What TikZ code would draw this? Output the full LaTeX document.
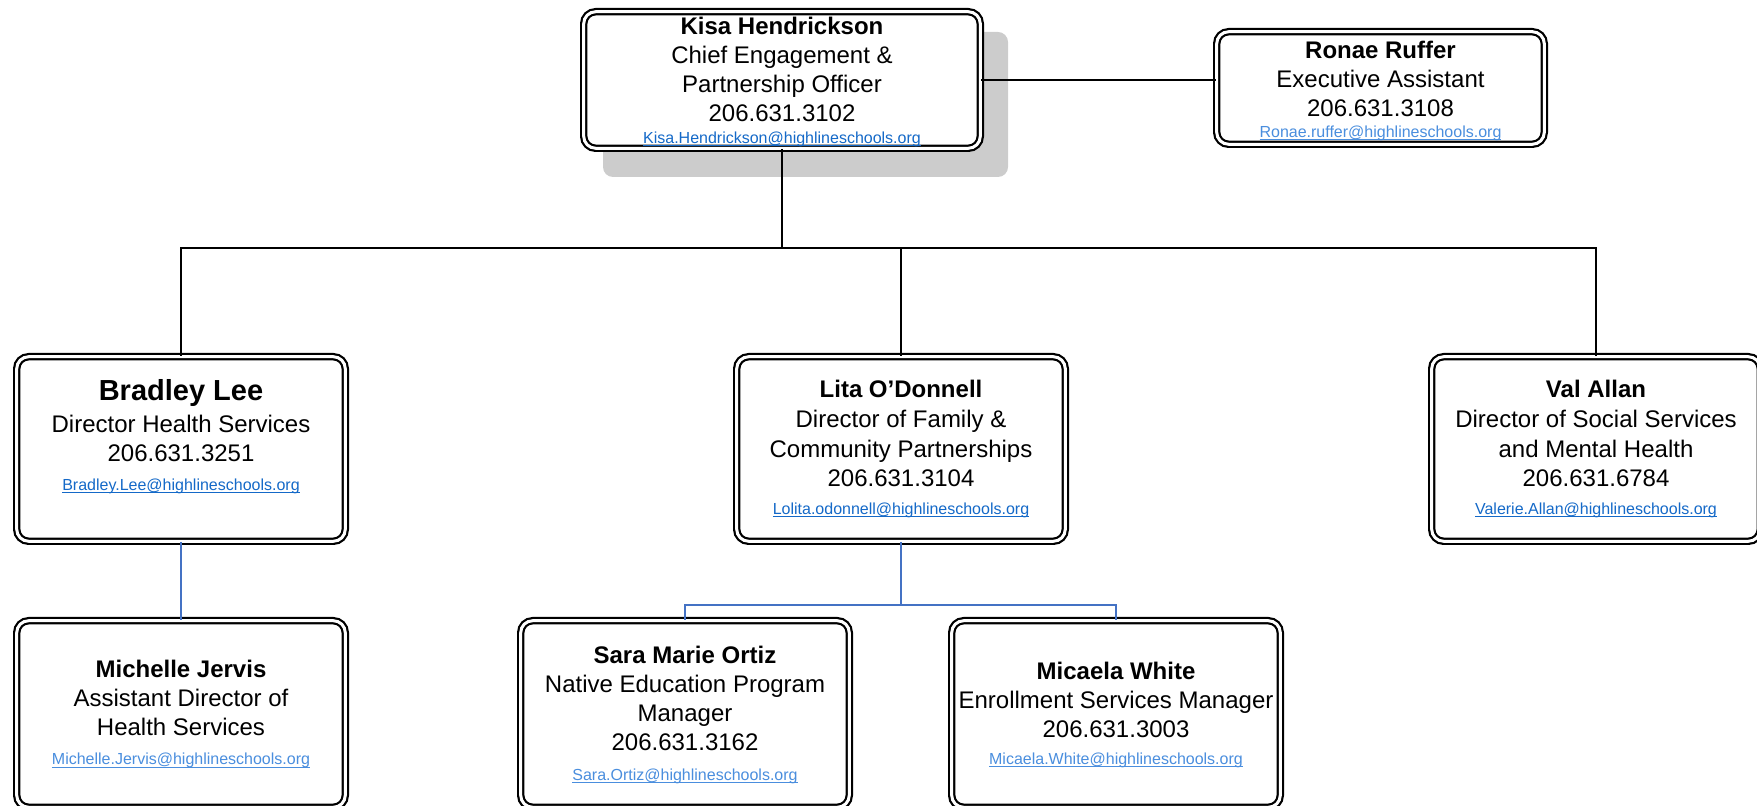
\documentclass[tikz,border=0pt]{standalone}
\usepackage{fontspec}
\setmainfont{Liberation Sans}
\usepackage{tikz}

\definecolor{linkdark}{RGB}{20,105,200}
\definecolor{linklight}{RGB}{74,142,222}
\definecolor{treeblue}{RGB}{68,114,196}

% underlined e-mail address
\newcommand\maillink[2][linkdark]{{\fontsize{8}{10}\selectfont\color{#1}\setbox0\hbox{#2}\rlap{\rule[-1.3pt]{\wd0}{0.5pt}}\box0}}

\begin{document}
\begin{tikzpicture}[x=0.5pt, y=-0.5pt,
    box/.style={draw, line width=1.1pt, double=white, double distance=1.5pt,
        rounded corners=6pt, fill=white, inner sep=0pt, align=center,
        font=\fontsize{12}{14.5}\selectfont,
        minimum width=164.3pt, minimum height=92.3pt},
    lowbox/.style={box, minimum height=93.3pt},
    tree/.style={line width=1pt},
    subtree/.style={line width=1pt, treeblue}]

    % Page size
    \useasboundingbox (0,0) rectangle (1757,806);
    \coordinate (bus) at (0,248);
    \coordinate (subbus) at (0,605);

    % Shadow behind the top box
    \fill[gray!40, rounded corners=5pt] (603,32) rectangle (1008,177);

    % Top
    \node[box, minimum width=198.3pt, minimum height=68.3pt] (kisa) at (782,80)
        {\rule{0pt}{10.6pt}\textbf{Kisa Hendrickson}\\ Chief Engagement \&\\ Partnership Officer\\ 206.631.3102\\[-3.6pt]
         \maillink{Kisa.Hendrickson@highlineschools.org}};
    \node[box, minimum width=163.8pt, minimum height=56.3pt] (ronae) at (1380.5,88)
        {\rule{0pt}{11.6pt}\textbf{Ronae Ruffer}\\ Executive Assistant\\ 206.631.3108\\[-3.7pt]
         \maillink[linklight]{Ronae.ruffer@highlineschools.org}};

    % Directors
    \node[box] (bradley) at (181,449)
        {{\fontsize{14.5}{16}\selectfont\textbf{Bradley Lee}}\\[1.5pt] Director Health Services\\ 206.631.3251\\[0pt]
         \maillink{Bradley.Lee@highlineschools.org}\\ \mbox{}};
    \node[box] (lita) at (901,449)
        {\textbf{Lita O’Donnell}\\[0.3pt] Director of Family \&\\[0.3pt] Community Partnerships\\[0.3pt] 206.631.3104\\[-0.7pt]
         \maillink{Lolita.odonnell@highlineschools.org}};
    \node[box] (val) at (1596,449)
        {\textbf{Val Allan}\\[0.3pt] Director of Social Services\\[0.3pt] and Mental Health\\[0.3pt] 206.631.6784\\[-0.7pt]
         \maillink{Valerie.Allan@highlineschools.org}};

    % Staff
    \node[lowbox] (michelle) at (181,714)
        {\textbf{Michelle Jervis}\\ Assistant Director of\\ Health Services\\[0.4pt]
         \maillink[linklight]{Michelle.Jervis@highlineschools.org}};
    \node[lowbox] (sara) at (685,714)
        {\rule{0pt}{10pt}\textbf{Sara Marie Ortiz}\\ Native Education Program\\ Manager\\ 206.631.3162\\[0.4pt]
         \maillink[linklight]{Sara.Ortiz@highlineschools.org}};
    \node[lowbox] (micaela) at (1116,714)
        {\rule{0pt}{10pt}\textbf{Micaela White}\\ Enrollment Services Manager\\ 206.631.3003\\[-1.1pt]
         \maillink[linklight]{Micaela.White@highlineschools.org}};

    % Lines
    \draw[tree] (kisa.east) -- (kisa.east -| ronae.west);
    \draw[tree] (kisa.south) -- (kisa.south |- bus);
    \draw[tree] (bradley.north) -- (bradley.north |- bus) -- (val.north |- bus) -- (val.north);
    \draw[tree] (lita.north) -- (lita.north |- bus);

    \draw[subtree] (bradley.south) -- (michelle.north);
    \draw[subtree] (lita.south) -- (lita.south |- subbus);
    \draw[subtree] (sara.north) -- (sara.north |- subbus) -- (micaela.north |- subbus) -- (micaela.north);

\end{tikzpicture}
\end{document}
